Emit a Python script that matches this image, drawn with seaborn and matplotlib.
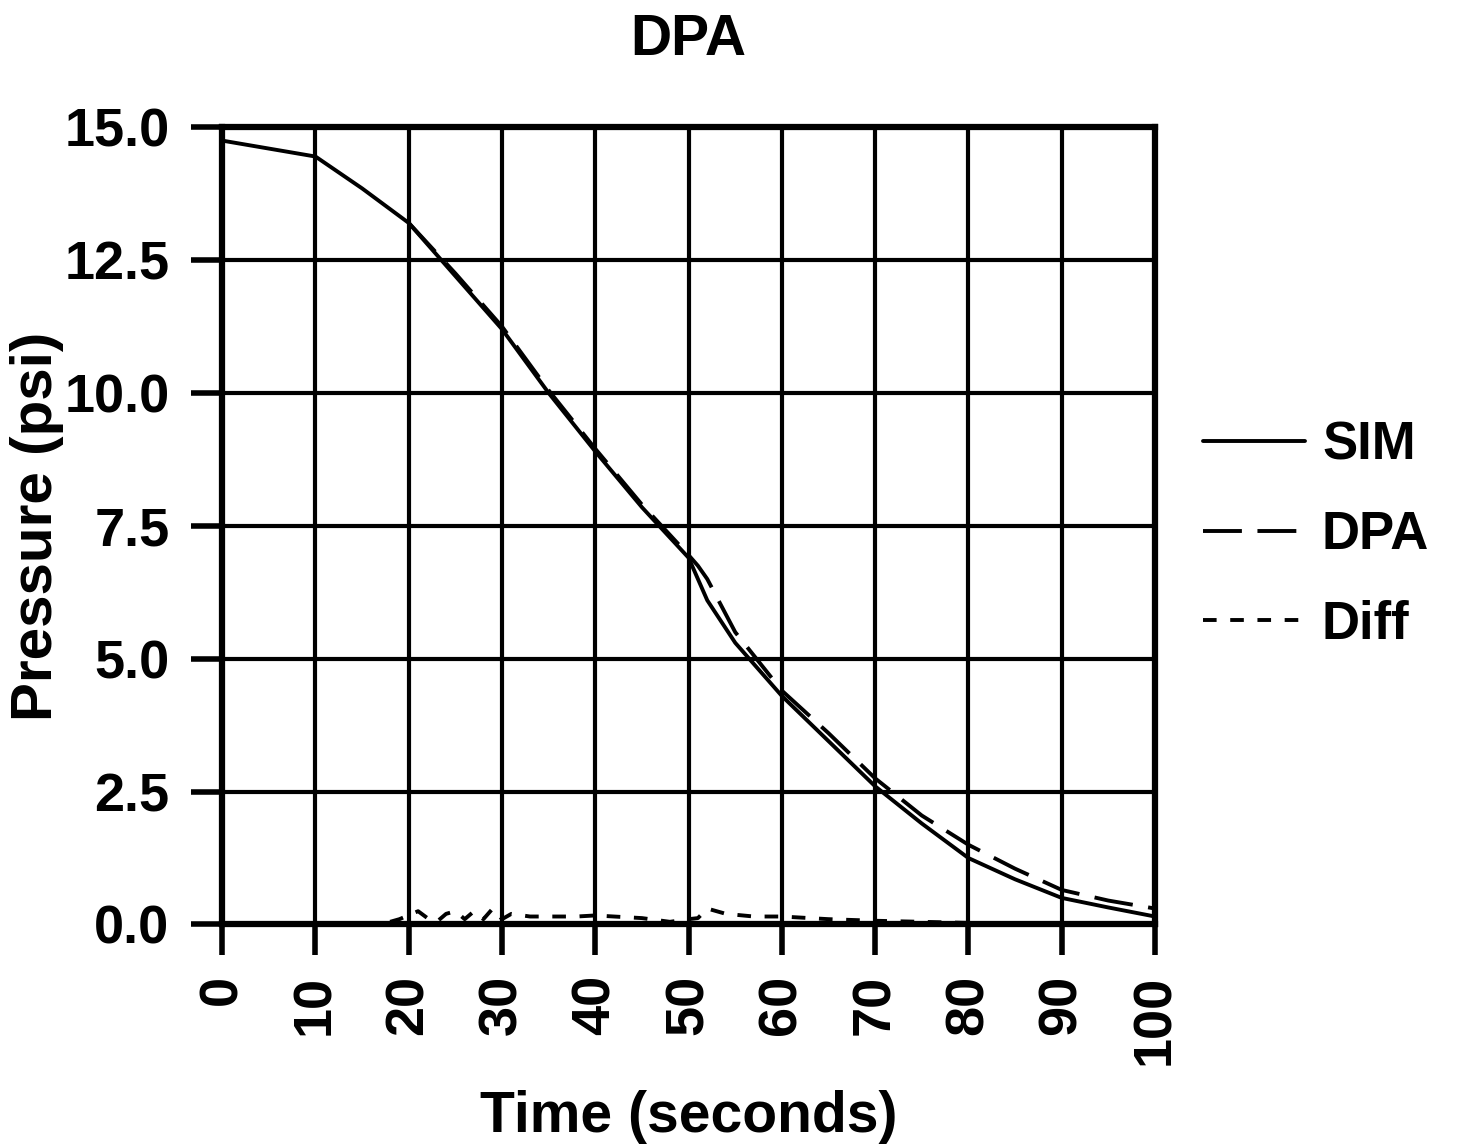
import matplotlib
matplotlib.use("Agg")
import matplotlib.pyplot as plt
import seaborn as sns
from matplotlib.lines import Line2D

sim_t = [0, 10, 15, 20, 25, 30, 35, 40, 45, 50, 51, 52, 55, 60, 65, 70, 75, 80, 85, 90, 95, 100]
sim_p = [14.75, 14.45, 13.85, 13.2, 12.2, 11.2, 10.0, 8.9, 7.85, 6.9, 6.5, 6.1, 5.3, 4.3, 3.45, 2.6, 1.9, 1.25, 0.85, 0.5, 0.32, 0.15]

dpa_t = [20, 25, 30, 35, 40, 45, 50, 51, 52, 55, 60, 65, 70, 75, 80, 85, 90, 95, 100]
dpa_p = [13.2, 12.25, 11.25, 10.05, 8.95, 7.9, 6.95, 6.75, 6.5, 5.5, 4.4, 3.6, 2.75, 2.05, 1.5, 1.05, 0.65, 0.45, 0.3]

diff_t = [18, 19, 21, 22, 23, 24, 25, 26, 27, 28, 29, 30, 31, 33, 35, 38, 40, 42, 45, 48, 50, 51, 52, 54, 57, 60, 65, 70, 75, 80, 85, 90, 95, 100]
diff_p = [0.05, 0.1, 0.25, 0.12, 0.05, 0.2, 0.25, 0.1, 0.25, 0.1, 0.3, 0.1, 0.2, 0.15, 0.15, 0.15, 0.17, 0.15, 0.12, 0.05, 0.1, 0.12, 0.3, 0.2, 0.15, 0.15, 0.1, 0.07, 0.05, 0.03, 0.02, 0.01, 0.0, 0.0]

xticks = [0, 10, 20, 30, 40, 50, 60, 70, 80, 90, 100]
yticks = [0.0, 2.5, 5.0, 7.5, 10.0, 12.5, 15.0]

sns.set_theme(style="white")
plt.rcParams['font.family'] = ['Liberation Sans', 'DejaVu Sans']
plt.rcParams['font.weight'] = 'bold'
for k in ['text.color', 'axes.labelcolor', 'xtick.color', 'ytick.color']:
    plt.rcParams[k] = 'black'

LW = 2.8
fig = plt.figure(figsize=(14.62, 11.47), dpi=100)
ax = fig.add_axes([0.152, 0.194, 0.638, 0.695])

sns.lineplot(x=sim_t, y=sim_p, ax=ax, color='black', linewidth=LW)
sns.lineplot(x=dpa_t, y=dpa_p, ax=ax, color='black', linewidth=LW)
ax.lines[-1].set_dashes([10, 4])
sns.lineplot(x=diff_t, y=diff_p, ax=ax, color='black', linewidth=LW)
ax.lines[-1].set_dashes([3.5, 3.5])

ax.set_xlim(0, 100)
ax.set_ylim(0, 15)
ax.set_xticks(xticks)
ax.set_xticklabels([str(t) for t in xticks], rotation=90, fontsize=39, fontweight='bold')
ax.set_yticks(yticks)
ax.set_yticklabels([f"{v:.1f}" for v in yticks], fontsize=39, fontweight='bold')
ax.grid(True, color='black', linewidth=3)
ax.set_axisbelow(True)
for s in ax.spines.values():
    s.set_color('black')
    s.set_linewidth(4.5)
ax.tick_params(axis='both', which='major', length=22, width=4, color='black', direction='out',
               bottom=True, left=True)
ax.tick_params(axis='x', pad=14)
ax.tick_params(axis='y', pad=16)
ax.set_xlabel("Time (seconds)", fontsize=41, fontweight='bold', labelpad=18)
ax.set_ylabel("Pressure (psi)", fontsize=42, fontweight='bold', labelpad=0)
ax.set_title("DPA", fontsize=41, fontweight='bold', pad=52)

handles = [Line2D([0], [0], color='black', lw=LW),
           Line2D([0], [0], color='black', lw=LW, dashes=[10, 4]),
           Line2D([0], [0], color='black', lw=LW, dashes=[3.5, 3.5])]
leg = fig.legend(handles, ["SIM", "DPA", "Diff"], loc='center left',
                 bbox_to_anchor=(0.823, 1 - 535 / 1147), bbox_transform=fig.transFigure,
                 frameon=False, prop={'size': 38, 'weight': 'bold'}, handlelength=1.93,
                 handletextpad=0.32, labelspacing=0.75, borderpad=0, borderaxespad=0)

fig.savefig("out.png", dpi=100)
